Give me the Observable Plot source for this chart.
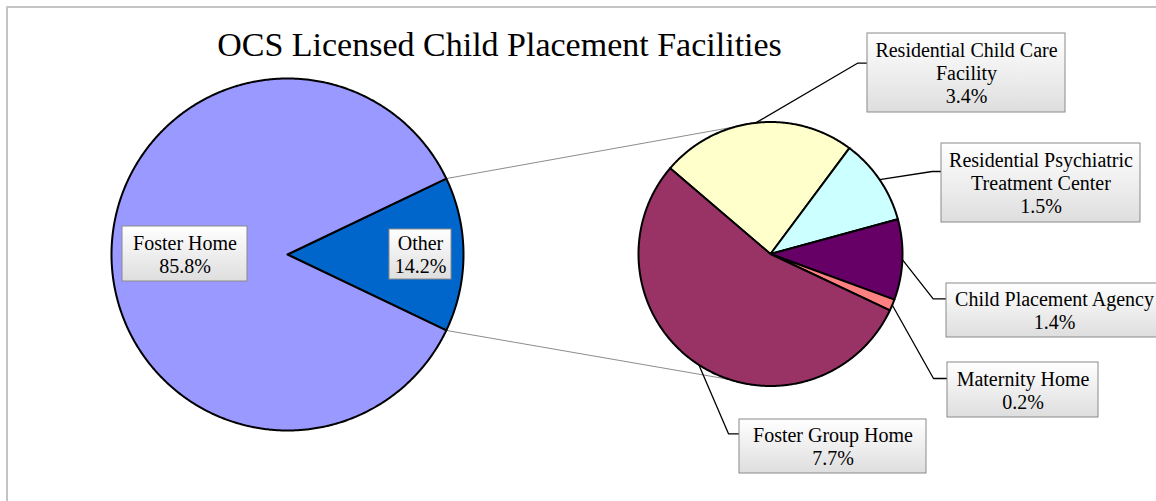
<!DOCTYPE html>
<html><head><meta charset="utf-8">
<script src="https://cdn.jsdelivr.net/npm/d3@7"></script>
<script src="https://cdn.jsdelivr.net/npm/@observablehq/plot@0.6"></script>
<style>body{margin:0;background:#fff} svg{display:block}</style>
</head><body><div id="chart"></div>
<script>
// ---------- data ----------
const title = "OCS Licensed Child Placement Facilities";
const mainCategories = ["Other", "Foster Home"];
const mainShares = [14.2, 85.8];
const otherCategories = ["Residential Child Care Facility", "Residential Psychiatric Treatment Center", "Child Placement Agency", "Maternity Home", "Foster Group Home"];
const otherShares = [3.4, 1.5, 1.4, 0.2, 7.7];
const labelNames = {
  "Foster Home": "Foster Home",
  "Other": "Other",
  "Residential Child Care Facility": "Residential Child Care\nFacility",
  "Residential Psychiatric Treatment Center": "Residential Psychiatric\nTreatment Center",
  "Child Placement Agency": "Child Placement Agency",
  "Maternity Home": "Maternity Home",
  "Foster Group Home": "Foster Group Home"
};
const colorDomain = ["Other", "Foster Home", ...otherCategories];
const colorRange = ["#0066CC", "#9999FF", "#FFFFCC", "#CCFFFF", "#660066", "#FF8080", "#993366"];

// ---------- layout ----------
const W = 1156, H = 501;
const leftPie = {cx: 287, cy: 254, r: 176, startDeg: 90 - mainShares[0] * 3.6 / 2};
const rightPie = {cx: 770, cy: 253.5, r: 132, startDeg: 310.5};
const connectorTargetsDeg = [355, 198];
const boxLayout = {
  "Foster Home": {x1: 122, x2: 247, y1: 226, y2: 281},
  "Other": {x1: 389, x2: 451, y1: 229, y2: 279},
  "Residential Child Care Facility": {x1: 867, x2: 1065, y1: 33, y2: 112, elbow: [857, 62.7]},
  "Residential Psychiatric Treatment Center": {x1: 941, x2: 1140, y1: 143, y2: 222, elbow: [931.7, 171]},
  "Child Placement Agency": {x1: 946, x2: 1162, y1: 283, y2: 337, elbow: [932.7, 298.3]},
  "Maternity Home": {x1: 947, x2: 1098, y1: 362, y2: 417, elbow: [933, 378]},
  "Foster Group Home": {x1: 739, x2: 926, y1: 419, y2: 473, elbow: [728, 433.3]}
};

const rad = Math.PI / 180;
function slices(names, values, pie) {
  const s0 = pie.startDeg * rad;
  return d3.pie().sort(null).startAngle(s0).endAngle(s0 + 2 * Math.PI)(values)
    .map((a, i) => ({name: names[i], value: values[i], a0: a.startAngle, a1: a.endAngle, mid: (a.startAngle + a.endAngle) / 2}));
}
const pt = (pie, a) => ({x: pie.cx + pie.r * Math.sin(a), y: pie.cy - pie.r * Math.cos(a)});
function polygon(pie, s) {
  const n = Math.max(2, Math.ceil((s.a1 - s.a0) / (0.5 * rad)));
  const pts = [{x: pie.cx, y: pie.cy, name: s.name}];
  for (let k = 0; k <= n; k++) pts.push({...pt(pie, s.a0 + (s.a1 - s.a0) * k / n), name: s.name});
  return pts;
}
const leftSlices = slices(mainCategories, mainShares, leftPie);
const rightSlices = slices(otherCategories, otherShares, rightPie);
const leftPolys = leftSlices.flatMap(s => polygon(leftPie, s));
const rightPolys = rightSlices.flatMap(s => polygon(rightPie, s));

const otherSlice = leftSlices[0];
const connectors = [
  {id: "top", ...pt(leftPie, otherSlice.a0)}, {id: "top", ...pt(rightPie, connectorTargetsDeg[0] * rad)},
  {id: "bot", ...pt(leftPie, otherSlice.a1)}, {id: "bot", ...pt(rightPie, connectorTargetsDeg[1] * rad)}
];
const leaders = rightSlices.flatMap(s => {
  const b = boxLayout[s.name];
  return [
    {id: s.name, ...pt(rightPie, s.mid)},
    {id: s.name, x: b.elbow[0], y: b.elbow[1]},
    {id: s.name, x: b.x1, y: b.elbow[1]}
  ];
});
const boxes = [...leftSlices, ...rightSlices].map(s => ({
  ...boxLayout[s.name],
  label: labelNames[s.name] + "\n" + s.value.toFixed(1) + "%"
}));
const frame = [{x1: 6.5, x2: W, y1: 6.5, y2: H}];

const chart = Plot.plot({
  width: W, height: H, margin: 0,
  x: {domain: [0, W], range: [0, W], axis: null},
  y: {domain: [0, H], range: [0, H], axis: null},
  color: {type: "ordinal", domain: colorDomain, range: colorRange},
  style: {background: "#fff", fontFamily: "Liberation Serif"},
  marks: [
    Plot.ruleY(frame, {y: "y1", x1: "x1", x2: "x2", stroke: "#c4c4c4", strokeWidth: 2}),
    Plot.ruleX(frame, {x: "x1", y1: "y1", y2: "y2", stroke: "#c4c4c4", strokeWidth: 2}),
    Plot.line(connectors, {x: "x", y: "y", z: "id", stroke: "#8c8c8c", strokeWidth: 1}),
    Plot.line(leftPolys, {x: "x", y: "y", z: "name", fill: "name", stroke: "black", strokeWidth: 2, curve: "linear-closed"}),
    Plot.line(rightPolys, {x: "x", y: "y", z: "name", fill: "name", stroke: "black", strokeWidth: 2, curve: "linear-closed"}),
    Plot.line(leaders, {x: "x", y: "y", z: "id", stroke: "black", strokeWidth: 1.3}),
    Plot.rect(boxes, {x1: "x1", x2: "x2", y1: "y1", y2: "y2", fill: "url(#boxGrad)", stroke: "#8a8a8a", strokeWidth: 1}),
    Plot.text(boxes, {x: d => (d.x1 + Math.min(d.x2, W + 6)) / 2, y: d => (d.y1 + d.y2) / 2, text: "label", fontSize: 20, lineHeight: 1.15, fill: "#000", fontFamily: "Liberation Serif"}),
    Plot.text([title], {x: () => 499, y: () => 45, text: d => d, fontSize: 34, fill: "#000", fontFamily: "Liberation Serif"})
  ]
});
const defs = d3.select(chart).insert("defs", ":first-child");
const g = defs.append("linearGradient").attr("id", "boxGrad").attr("x1", 0).attr("y1", 0).attr("x2", 0).attr("y2", 1);
g.append("stop").attr("offset", "0%").attr("stop-color", "#ffffff");
g.append("stop").attr("offset", "100%").attr("stop-color", "#dedede");
document.getElementById("chart").append(chart);
</script>
</body></html>
